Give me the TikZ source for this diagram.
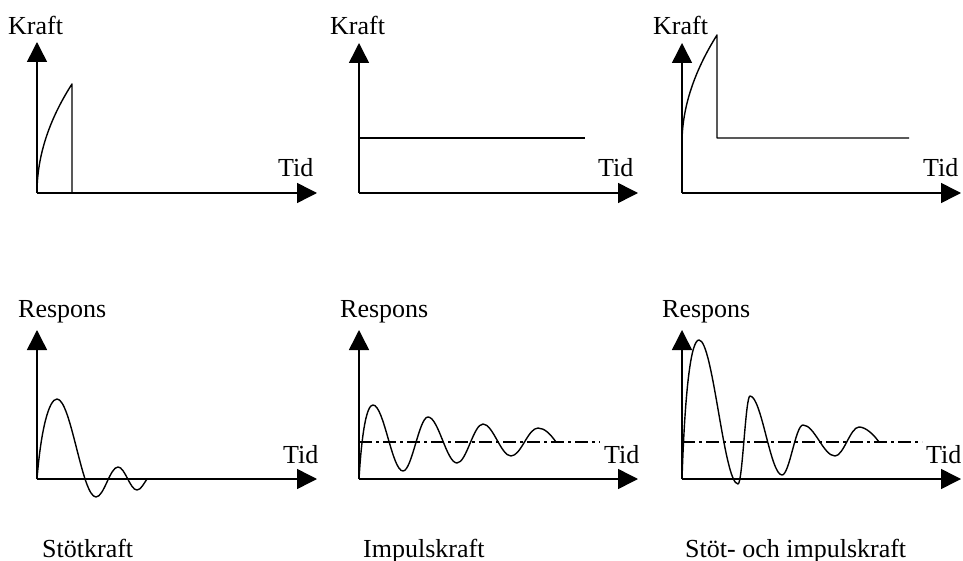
\documentclass[tikz,border=0pt]{standalone}
\usepackage{fontspec}
\setmainfont{Liberation Serif}
\usetikzlibrary{arrows.meta}
\begin{document}
\begin{tikzpicture}[x=1pt,y=-1pt,
  axis/.style={line width=1.5pt,-{Triangle[length=20pt,width=20pt]}},
  curve/.style={line width=1.4pt,line join=round},
  level/.style={line width=1.4pt},
  dashdot/.style={line width=1.4pt,dash pattern=on 13pt off 4pt on 3pt off 4pt},
  lbl/.style={anchor=base west,inner sep=0pt,font=\fontsize{26}{30}\selectfont}]
\path[use as bounding box] (0,0) rectangle (963,561);
% ---------- coordinates ----------
\coordinate (o1) at (37,193);  \coordinate (y1) at (37,42);   \coordinate (x1) at (317,193);
\coordinate (o2) at (359,193); \coordinate (y2) at (359,43);  \coordinate (x2) at (638,193);
\coordinate (o3) at (682,193); \coordinate (y3) at (682,43);  \coordinate (x3) at (961,193);
\coordinate (o4) at (37,479);  \coordinate (y4) at (37,330);  \coordinate (x4) at (317,479);
\coordinate (o5) at (359,479); \coordinate (y5) at (359,330); \coordinate (x5) at (638,479);
\coordinate (o6) at (682,479); \coordinate (y6) at (682,330); \coordinate (x6) at (961,479);
% ---------- axes ----------
\foreach \i in {1,...,6}{
  \draw[axis] (o\i) -- (y\i);
  \draw[axis] (o\i) -- (x\i);
}
% ---------- labels ----------
\node[lbl] (k1) at (8,35) {Kraft};
\node[lbl] (k2) at (330,35) {Kraft};
\node[lbl] (k3) at (653,35) {Kraft};
\node[lbl] (t1) at (278,177) {Tid};
\node[lbl] (t2) at (598,177) {Tid};
\node[lbl] (t3) at (923,177) {Tid};
\node[lbl] (r4) at (18,317) {Respons};
\node[lbl] (r5) at (340,317) {Respons};
\node[lbl] (r6) at (662,317) {Respons};
\node[lbl] (t4) at (283,463) {Tid};
\node[lbl] (t5) at (604,463) {Tid};
\node[lbl] (t6) at (926,463) {Tid};
\node[lbl] (c4) at (42,557) {Stötkraft};
\node[lbl] (c5) at (363,557) {Impulskraft};
\node[lbl] (c6) at (685,557) {Stöt- och impulskraft};
% ---------- force curves ----------
\draw[curve] (o1) .. controls (37,156.7) and (48.7,120.3) .. (72,84) -- (72,193);
\draw[level] (359,138) -- (585,138);
\draw[curve] (682,143) .. controls (682,108) and (694,71.7) .. (717,35) -- (717,138) -- (909,138);
% ---------- responses ----------
\draw[curve] (o4) .. controls +(4,-50) and +(-8,0) .. (57,399)
  .. controls +(14,0) and +(-14,0) .. (96,497)
  .. controls +(8,0) and +(-8,0) .. (118,467)
  .. controls +(7,0) and +(-7,0) .. (137,490)
  .. controls +(4,0) and +(-3,4) .. (147,479);
\draw[dashdot] (359,442) -- (600,442);
\draw[curve] (o5) .. controls +(3,-50) and +(-6,0) .. (373,405)
  .. controls +(11,0) and +(-11,0) .. (403,471)
  .. controls +(9,0) and +(-9,0) .. (428,417)
  .. controls +(10.5,0) and +(-10.5,0) .. (457,463)
  .. controls +(9.5,0) and +(-9.5,0) .. (483,424)
  .. controls +(10,0) and +(-10,0) .. (511,456)
  .. controls +(10,0) and +(-10,0) .. (538,428)
  .. controls +(7,0) and +(-5,-7) .. (556,442);
\draw[dashdot] (682,442) -- (922,442);
\draw[curve] (o6) .. controls +(3,-90) and +(-8,0) .. (699,340)
  .. controls +(14,0) and +(-14,0) .. (738,484)
  .. controls +(4.5,0) and +(-4.5,0) .. (750,396)
  .. controls +(11.5,0) and +(-11.5,0) .. (782,475)
  .. controls +(7.5,0) and +(-7.5,0) .. (803,425)
  .. controls +(11.5,0) and +(-11.5,0) .. (835,456)
  .. controls +(8.5,0) and +(-8.5,0) .. (859,427)
  .. controls +(7,0) and +(-5,-7) .. (879,442);
\end{tikzpicture}
\end{document}
